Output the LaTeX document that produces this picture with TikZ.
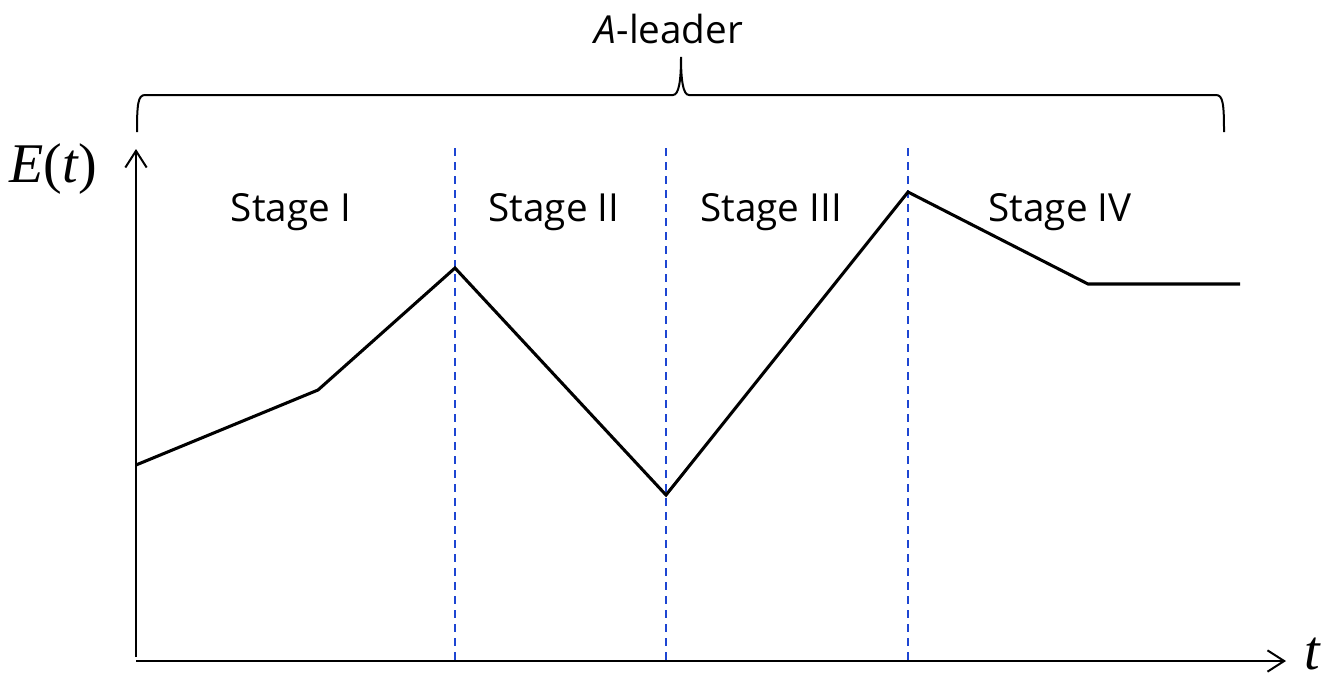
\documentclass[tikz,border=0pt]{standalone}
\usepackage{fontspec}
\setmainfont{Liberation Serif}
\newfontfamily\stagefont{Open Sans}
\usetikzlibrary{arrows.meta}
\definecolor{dashblue}{RGB}{30,70,210}
\tikzset{
  axis/.style={line width=1.5pt,-{Straight Barb[length=12.5pt,width=16pt,line width=1.5pt]}},
  curve/.style={line width=2.3pt,line join=miter},
  divider/.style={dashblue,line width=1.4pt,dash pattern=on 6pt off 4.5pt},
  stagelabel/.style={font=\stagefont\fontsize{29}{34}\selectfont,anchor=base,inner sep=0pt},
  bracestyle/.style={line width=1.5pt},
  varlabel/.style={font=\fontsize{42}{48}\selectfont,inner sep=0pt}
}
\begin{document}
\begin{tikzpicture}[x=0.75pt,y=-0.75pt]
\useasboundingbox (0,0) rectangle (1327,679);
% axes
\coordinate (yb) at (136,657);
\coordinate (yt) at (136,149);
\coordinate (xl) at (136,661);
\coordinate (xr) at (1286,661);
\draw[axis] (yb) -- (yt);
\draw[axis] (xl) -- (xr);
\node[varlabel,anchor=base west] (E) at (9,182) {\textit{E}(\textit{t})};
\node[varlabel,anchor=base] (T) at (1313,669) {\textit{t}};
% dividers
\foreach \x/\n in {455/a,666/b,908/c}{
  \coordinate (d\n t) at (\x,148);
  \coordinate (d\n b) at (\x,660);
  \draw[divider] (d\n t) -- (d\n b);
}
% curve
\coordinate (p0) at (136,465);
\coordinate (p1) at (318,390);
\coordinate (p2) at (455,268);
\coordinate (p3) at (666,495);
\coordinate (p4) at (908,192);
\coordinate (p5) at (1088,284);
\coordinate (p6) at (1240,284);
\draw[curve] (p0) -- (p1) -- (p2) -- (p3) -- (p4) -- (p5) -- (p6);
% stage labels
\node[stagelabel] (s1) at (291,221) {Stage I};
\node[stagelabel] (s2) at (554,221) {Stage II};
\node[stagelabel] (s3) at (771,221) {Stage III};
\node[stagelabel] (s4) at (1060,221) {Stage IV};
% brace
\coordinate (bl) at (137,132);
\coordinate (bt) at (681,57);
\coordinate (br) at (1224,132);
\draw[bracestyle] (bl) .. controls (137,104) and (138,95) .. (145,95)
  -- (673,95) .. controls (679,95) and (681,80) .. (bt)
  .. controls (681,80) and (683,95) .. (689,95)
  -- (1216,95) .. controls (1223,95) and (1224,104) .. (br);
\node[stagelabel] (lead) at (669,43) {\textit{A}-leader};
\end{tikzpicture}
\end{document}
